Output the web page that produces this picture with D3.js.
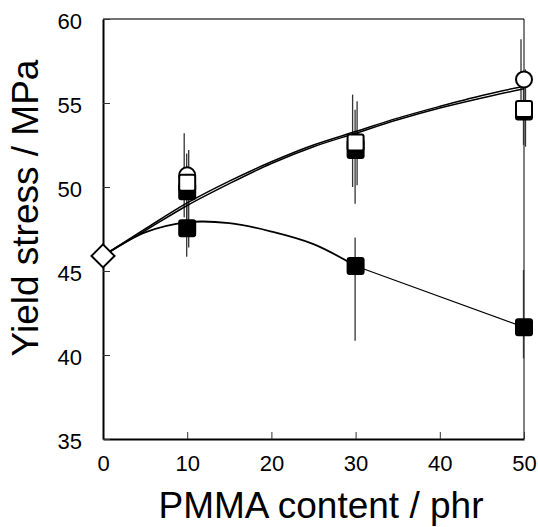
<!DOCTYPE html>
<html>
<head>
<meta charset="utf-8">
<script src="https://cdn.jsdelivr.net/npm/d3@7"></script>
<style>
  body { margin: 0; background: #fff; }
  svg { display: block; font-family: Arial, "Liberation Sans", sans-serif; }
</style>
</head>
<body>
<div id="chart"></div>
<script>
// Tick values
const xTicks = [0, 10, 20, 30, 40, 50];
const yTicks = [35, 40, 45, 50, 55, 60];

// Neat resin (PMMA = 0)
const neatX = 0;
const neatValue = 45.9;

// Filled PMMA contents
const content = [10, 30, 50];

// Open circles
const circleVals = [50.7, 52.7, 56.4];
const circleLo = [48.2, 50.0, 54.0];
const circleHi = [53.2, 55.5, 58.8];

// Open squares
const openSqVals = [50.25, 52.65, 54.65];
const openSqLo = [46.4, 50.1, 52.4];
const openSqHi = [52.2, 55.1, 57.0];

// Filled squares (upper)
const fillUpVals = [49.75, 52.2, 54.5];
const fillUpLo = [47.4, 49.0, 52.5];
const fillUpHi = [52.0, 54.6, 56.6];

// Filled squares (lower)
const fillLowVals = [47.55, 45.3, 41.65];
const fillLowLo = [45.85, 40.85, 39.8];
const fillLowHi = [49.2, 47.0, 45.06];

// Trend curves
const curveX = [0, 5, 10, 15, 20, 25, 30, 35, 40, 45, 50];
const curveCircle = [45.9, 47.5, 49.05, 50.35, 51.5, 52.5, 53.3, 54.1, 54.8, 55.45, 56.0];
const curveSquare = [45.9, 47.4, 48.9, 50.2, 51.4, 52.4, 53.2, 54.0, 54.7, 55.3, 55.85];
const lowCurveX = [0, 5, 10, 15, 20, 25, 30];
const lowCurve = [45.9, 47.3, 47.9, 47.85, 47.35, 46.6, 45.3];

// Dimensions
const W = 538, H = 527;
const margin = { top: 19, right: 14, bottom: 88, left: 103 };
const width = W - margin.left - margin.right;
const height = H - margin.top - margin.bottom;
const font = 'Arial, "Liberation Sans", sans-serif';

const svg = d3.select("#chart").append("svg")
  .attr("width", W).attr("height", H);

const chart = svg.append("g")
  .attr("transform", `translate(${margin.left},${margin.top})`);

const x = d3.scaleLinear().domain([0, 50]).range([0, width]);
const y = d3.scaleLinear().domain([35, 60]).range([height, 0]);

// Frame
chart.append("line").attr("x1", 0).attr("x2", width).attr("y1", 0).attr("y2", 0)
  .attr("stroke", "#444").attr("stroke-width", 1.5);
chart.append("line").attr("x1", width).attr("x2", width).attr("y1", 0).attr("y2", height)
  .attr("stroke", "#000").attr("stroke-width", 1);

// Axes (ticks inside)
const xAxis = chart.append("g")
  .attr("transform", `translate(0,${height})`)
  .call(d3.axisBottom(x).tickValues(xTicks).tickSizeInner(-7).tickSizeOuter(0).tickPadding(16))
  .attr("font-family", font).attr("font-size", 22);
xAxis.select(".domain").attr("stroke-width", 2.2);
xAxis.selectAll(".tick line").attr("stroke", "#333");
xAxis.selectAll(".tick text").attr("fill", "#000");

const yAxis = chart.append("g")
  .call(d3.axisLeft(y).tickValues(yTicks).tickSizeInner(-7).tickSizeOuter(0).tickPadding(21))
  .attr("font-family", font).attr("font-size", 22);
yAxis.select(".domain").attr("stroke-width", 2);
yAxis.selectAll(".tick line").attr("stroke", "#333");
yAxis.selectAll(".tick text").attr("fill", "#000").attr("dy", "0.42em");

// Axis titles
svg.append("text")
  .attr("x", 321).attr("y", 518)
  .attr("text-anchor", "middle")
  .attr("font-size", 37)
  .text("PMMA content / phr");

svg.append("text")
  .attr("transform", "translate(38,208) rotate(-90)")
  .attr("text-anchor", "middle")
  .attr("font-size", 37)
  .text("Yield stress / MPa");

// Error bars
function errorBars(lo, hi, dx) {
  chart.append("g").selectAll("line")
    .data(content.map((c, i) => ({ c, lo: lo[i], hi: hi[i] })))
    .join("line")
    .attr("x1", (d) => x(d.c) + dx).attr("x2", (d) => x(d.c) + dx)
    .attr("y1", (d) => y(d.lo)).attr("y2", (d) => y(d.hi))
    .attr("stroke", "#333").attr("stroke-width", 1.3);
}
errorBars(circleLo, circleHi, -3);
errorBars(openSqLo, openSqHi, 1.5);
errorBars(fillUpLo, fillUpHi, -0.5);
errorBars(fillLowLo, fillLowHi, -0.5);

// Curves
const line = d3.line().x((d) => x(d[0])).y((d) => y(d[1])).curve(d3.curveCatmullRom);
chart.append("path").datum(curveX.map((v, i) => [v, curveCircle[i]]))
  .attr("d", line).attr("fill", "none").attr("stroke", "#000").attr("stroke-width", 1.5);
chart.append("path").datum(curveX.map((v, i) => [v, curveSquare[i]]))
  .attr("d", line).attr("fill", "none").attr("stroke", "#000").attr("stroke-width", 1.5);
chart.append("path").datum(lowCurveX.map((v, i) => [v, lowCurve[i]]))
  .attr("d", line).attr("fill", "none").attr("stroke", "#000").attr("stroke-width", 1.8);
// straight segment between the last two lower points
chart.append("line")
  .attr("x1", x(content[1])).attr("y1", y(fillLowVals[1]))
  .attr("x2", x(content[2])).attr("y2", y(fillLowVals[2]))
  .attr("stroke", "#000").attr("stroke-width", 1.2);

// Markers
const sq = 16;
function squares(vals, fill) {
  chart.append("g").selectAll("rect")
    .data(content.map((c, i) => ({ c, v: vals[i] })))
    .join("rect")
    .attr("x", (d) => x(d.c) - sq / 2).attr("y", (d) => y(d.v) - sq / 2)
    .attr("width", sq).attr("height", sq).attr("rx", 2)
    .attr("fill", fill).attr("stroke", "#000").attr("stroke-width", 2);
}

chart.append("g").selectAll("circle")
  .data(content.map((c, i) => ({ c, v: circleVals[i] })))
  .join("circle")
  .attr("cx", (d) => x(d.c)).attr("cy", (d) => y(d.v)).attr("r", 8)
  .attr("fill", "#fff").attr("stroke", "#000").attr("stroke-width", 2);

squares(fillUpVals, "#000");
squares(openSqVals, "#fff");
squares(fillLowVals, "#000");

// Neat diamond
const dd = 11.5;
chart.append("path")
  .attr("d", `M${x(neatX)},${y(neatValue) - dd} L${x(neatX) + dd},${y(neatValue)} L${x(neatX)},${y(neatValue) + dd} L${x(neatX) - dd},${y(neatValue)} Z`)
  .attr("fill", "#fff").attr("stroke", "#000").attr("stroke-width", 2);
</script>
</body>
</html>
